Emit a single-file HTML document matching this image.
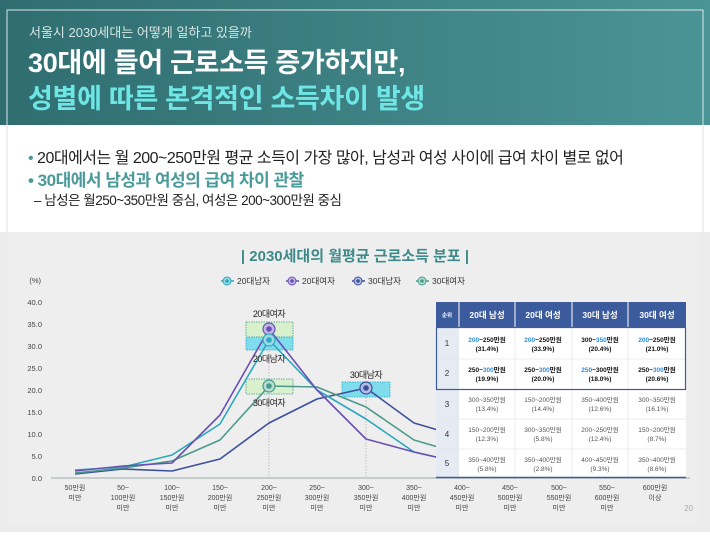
<!DOCTYPE html>
<html><head><meta charset="utf-8"><style>
body{margin:0;width:710px;height:532px;overflow:hidden;font-family:"Liberation Sans","Noto Sans CJK KR",sans-serif;}
</style></head><body>
<svg width="710" height="532" viewBox="0 0 710 532" xmlns="http://www.w3.org/2000/svg" font-family="Liberation Sans, Noto Sans CJK KR, sans-serif">
<defs>
<linearGradient id="hg" x1="0" x2="1" y1="0" y2="0"><stop offset="0" stop-color="#2f6d70"/><stop offset="1" stop-color="#4b9496"/></linearGradient>
</defs>
<rect width="710" height="532" fill="#fff"/>
<rect width="710" height="125" fill="url(#hg)"/>
<rect x="7" y="10" width="696" height="150" fill="none" stroke="#d8e8e8" stroke-width="1"/>
<rect x="0" y="125" width="710" height="107" fill="#fff"/>
<line x1="7" y1="125" x2="7" y2="232" stroke="#e0e0e0"/>
<line x1="703" y1="125" x2="703" y2="232" stroke="#e0e0e0"/>
<text x="29" y="37" font-size="13" fill="#d8e6e6">서울시 2030세대는 어떻게 일하고 있을까</text>
<text x="28" y="72" font-size="27" font-weight="bold" fill="#fff" letter-spacing="-0.3">30대에 들어 근로소득 증가하지만,</text>
<text x="28" y="108" font-size="27" font-weight="bold" fill="#6fe6e6" letter-spacing="-0.3">성별에 따른  본격적인 소득차이 발생</text>
<text x="28" y="163" font-size="16" fill="#222" letter-spacing="-0.5"><tspan fill="#4a9a9a">•</tspan> 20대에서는 월 200~250만원 평균 소득이 가장 많아, 남성과 여성 사이에 급여 차이 별로 없어</text>
<text x="28" y="186" font-size="17" font-weight="bold" fill="#4a9a9a" letter-spacing="-0.5">• 30대에서 남성과 여성의 급여 차이 관찰</text>
<text x="34" y="205" font-size="13.5" fill="#222" letter-spacing="-0.5">– 남성은 월250~350만원 중심,  여성은 200~300만원 중심</text>

<rect x="0" y="232" width="710" height="300" fill="#ececec"/>
<rect x="8" y="232" width="690" height="294" fill="#eeeeee"/>
<text x="355" y="261" text-anchor="middle" font-size="15" font-weight="bold" fill="#3e8a8a">| 2030세대의 월평균 근로소득 분포 |</text>
<g font-size="8.5" fill="#333">
<line x1="221" y1="281" x2="234" y2="281" stroke="#2aa8c0" stroke-width="1.5"/><circle cx="227" cy="281" r="4" fill="#9ed8e4" stroke="#2aa8c0"/><circle cx="227" cy="281" r="1.8" fill="#2aa8c0"/><text x="237" y="284">20대남자</text>
<line x1="286" y1="281" x2="299" y2="281" stroke="#6a50b4" stroke-width="1.5"/><circle cx="292" cy="281" r="4" fill="#c3b6e6" stroke="#6a50b4"/><circle cx="292" cy="281" r="1.8" fill="#6a50b4"/><text x="302" y="284">20대여자</text>
<line x1="352" y1="281" x2="365" y2="281" stroke="#3b4f9e" stroke-width="1.5"/><circle cx="358" cy="281" r="4" fill="#b4bde0" stroke="#3b4f9e"/><circle cx="358" cy="281" r="1.8" fill="#3b4f9e"/><text x="368" y="284">30대남자</text>
<line x1="416" y1="281" x2="429" y2="281" stroke="#4a9a8a" stroke-width="1.5"/><circle cx="422" cy="281" r="4" fill="#b6dcd4" stroke="#4a9a8a"/><circle cx="422" cy="281" r="1.8" fill="#4a9a8a"/><text x="432" y="284">30대여자</text>
</g>
<g font-size="7.5" fill="#444" text-anchor="end">
<text x="41" y="283">(%)</text>
<text x="42" y="305">40.0</text><text x="42" y="327">35.0</text><text x="42" y="349">30.0</text><text x="42" y="371">25.0</text><text x="42" y="393">20.0</text><text x="42" y="415">15.0</text><text x="42" y="437">10.0</text><text x="42" y="459">5.0</text><text x="42" y="481">0.0</text>
</g>
<line x1="51" y1="478" x2="690" y2="478" stroke="#9aa" stroke-width="1"/>
<line x1="269" y1="330" x2="269" y2="478" stroke="#aaa" stroke-dasharray="1.5,1.5" stroke-width="0.7"/>
<line x1="366" y1="388" x2="366" y2="478" stroke="#aaa" stroke-dasharray="1.5,1.5" stroke-width="0.7"/>
<rect x="246" y="322" width="47" height="15" fill="#d8f0cc" stroke="#4a9a8a" stroke-dasharray="1.5,1" stroke-width="0.8"/>
<rect x="246" y="337" width="47" height="13" fill="#7fdcec" stroke="#2aa8c0" stroke-dasharray="1.5,1" stroke-width="0.8"/>
<rect x="246" y="379" width="47" height="15" fill="#d8f0cc" stroke="#4a9a8a" stroke-dasharray="1.5,1" stroke-width="0.8"/>
<rect x="342" y="382" width="48" height="15" fill="#7fdcec" stroke="#2aa8c0" stroke-dasharray="1.5,1" stroke-width="0.8"/>
<g fill="none" stroke-width="1.6" stroke-linejoin="round">
<polyline stroke="#3b4f9e" points="75,474 123,469 172,471 220,459 269,423 317,399 366,388 414,423 462,437"/>
<polyline stroke="#4a9a8a" points="75,473 123,468 172,461 220,440 269,386 317,387 366,407 414,440 462,454"/>
<polyline stroke="#2aa8c0" points="75,470 123,467 172,455 220,424 269,340 317,390 366,419 414,452 462,463"/>
<polyline stroke="#6a50b4" points="75,471 123,466 172,463 220,415 269,329 317,390 366,439 414,452 462,463"/>
</g>
<circle cx="269" cy="329" r="6" fill="#c3b6e6" stroke="#6a50b4" stroke-width="1.2"/><circle cx="269" cy="329" r="2.8" fill="#6a50b4"/>
<circle cx="269" cy="340" r="6" fill="#9ed8e4" stroke="#2aa8c0" stroke-width="1.2"/><circle cx="269" cy="340" r="2.8" fill="#2aa8c0"/>
<circle cx="269" cy="386" r="6" fill="#b6dcd4" stroke="#4a9a8a" stroke-width="1.2"/><circle cx="269" cy="386" r="2.8" fill="#4a9a8a"/>
<circle cx="366" cy="388" r="6" fill="#b4bde0" stroke="#3b4f9e" stroke-width="1.2"/><circle cx="366" cy="388" r="2.8" fill="#3b4f9e"/>
<g font-size="9" fill="#222" text-anchor="middle" letter-spacing="-0.5">
<text x="269" y="317">20대여자</text><text x="269" y="362">20대남자</text><text x="269" y="406">30대여자</text><text x="366" y="378">30대남자</text>
</g>
<g font-size="7" fill="#444" text-anchor="middle">
<text x="75" y="490">50만원</text><text x="75" y="500">미만</text>
<text x="123" y="490">50~</text><text x="123" y="500">100만원</text><text x="123" y="510">미만</text>
<text x="172" y="490">100~</text><text x="172" y="500">150만원</text><text x="172" y="510">미만</text>
<text x="220" y="490">150~</text><text x="220" y="500">200만원</text><text x="220" y="510">미만</text>
<text x="269" y="490">200~</text><text x="269" y="500">250만원</text><text x="269" y="510">미만</text>
<text x="317" y="490">250~</text><text x="317" y="500">300만원</text><text x="317" y="510">미만</text>
<text x="366" y="490">300~</text><text x="366" y="500">350만원</text><text x="366" y="510">미만</text>
<text x="414" y="490">350~</text><text x="414" y="500">400만원</text><text x="414" y="510">미만</text>
<text x="462" y="490">400~</text><text x="462" y="500">450만원</text><text x="462" y="510">미만</text>
<text x="510" y="490">450~</text><text x="510" y="500">500만원</text><text x="510" y="510">미만</text>
<text x="559" y="490">500~</text><text x="559" y="500">550만원</text><text x="559" y="510">미만</text>
<text x="607" y="490">550~</text><text x="607" y="500">600만원</text><text x="607" y="510">미만</text>
<text x="655" y="490">600만원</text><text x="655" y="500">이상</text>
</g>
<text x="693" y="511" font-size="8" fill="#aaa" text-anchor="end">20</text>
<rect x="436" y="302" width="250" height="176" fill="#fff"/>
<rect x="436" y="302" width="250" height="25" fill="#3c5b9c"/>
<rect x="436" y="327" width="23" height="151" fill="#e6eaf2"/>
<g stroke="#fff" stroke-width="1"><line x1="459" y1="302" x2="459" y2="327"/><line x1="515" y1="302" x2="515" y2="327"/><line x1="572" y1="302" x2="572" y2="327"/><line x1="628" y1="302" x2="628" y2="327"/></g>
<g stroke="#e4e6ea" stroke-width="0.7"><line x1="436" y1="359" x2="686" y2="359"/><line x1="436" y1="419" x2="686" y2="419"/><line x1="436" y1="449" x2="686" y2="449"/><line x1="515" y1="327" x2="515" y2="478"/><line x1="572" y1="327" x2="572" y2="478"/><line x1="628" y1="327" x2="628" y2="478"/></g>
<rect x="436.5" y="327.5" width="249" height="62" fill="none" stroke="#3c5b9c" stroke-width="1.2"/>
<line x1="436" y1="477.5" x2="686" y2="477.5" stroke="#3c5b9c" stroke-width="1.5"/>
<g font-size="8.5" font-weight="bold" fill="#fff" text-anchor="middle">
<text x="447" y="317" font-size="5.5">순위</text><text x="487" y="318">20대 남성</text><text x="543" y="318">20대 여성</text><text x="600" y="318">30대 남성</text><text x="657" y="318">30대 여성</text>
</g>
<g font-size="8" fill="#333" text-anchor="middle"><text x="447" y="346">1</text><text x="447" y="376">2</text><text x="447" y="407">3</text><text x="447" y="437">4</text><text x="447" y="466">5</text></g>
<g font-size="6.5" fill="#111" font-weight="bold" text-anchor="middle">
<text x="487" y="342"><tspan fill="#2a8ee0">200</tspan>~250만원</text><text x="487" y="351">(31.4%)</text>
<text x="543" y="342"><tspan fill="#2a8ee0">200</tspan>~250만원</text><text x="543" y="351">(33.9%)</text>
<text x="600" y="342">300~<tspan fill="#2a8ee0">350</tspan>만원</text><text x="600" y="351">(20.4%)</text>
<text x="657" y="342"><tspan fill="#2a8ee0">200</tspan>~250만원</text><text x="657" y="351">(21.0%)</text>
<text x="487" y="372">250~<tspan fill="#2a8ee0">300</tspan>만원</text><text x="487" y="381">(19.9%)</text>
<text x="543" y="372">250~<tspan fill="#2a8ee0">300</tspan>만원</text><text x="543" y="381">(20.0%)</text>
<text x="600" y="372"><tspan fill="#2a8ee0">250</tspan>~300만원</text><text x="600" y="381">(18.0%)</text>
<text x="657" y="372">250~<tspan fill="#2a8ee0">300</tspan>만원</text><text x="657" y="381">(20.6%)</text>
</g>
<g font-size="6.5" fill="#555" text-anchor="middle">
<text x="487" y="402">300~350만원</text><text x="487" y="411">(13.4%)</text>
<text x="543" y="402">150~200만원</text><text x="543" y="411">(14.4%)</text>
<text x="600" y="402">350~400만원</text><text x="600" y="411">(12.6%)</text>
<text x="657" y="402">300~350만원</text><text x="657" y="411">(16.1%)</text>
<text x="487" y="432">150~200만원</text><text x="487" y="441">(12.3%)</text>
<text x="543" y="432">300~350만원</text><text x="543" y="441">(5.8%)</text>
<text x="600" y="432">200~250만원</text><text x="600" y="441">(12.4%)</text>
<text x="657" y="432">150~200만원</text><text x="657" y="441">(8.7%)</text>
<text x="487" y="462">350~400만원</text><text x="487" y="471">(5.8%)</text>
<text x="543" y="462">350~400만원</text><text x="543" y="471">(2.8%)</text>
<text x="600" y="462">400~450만원</text><text x="600" y="471">(9.3%)</text>
<text x="657" y="462">350~400만원</text><text x="657" y="471">(8.6%)</text>
</g>
</svg>
</body></html>
